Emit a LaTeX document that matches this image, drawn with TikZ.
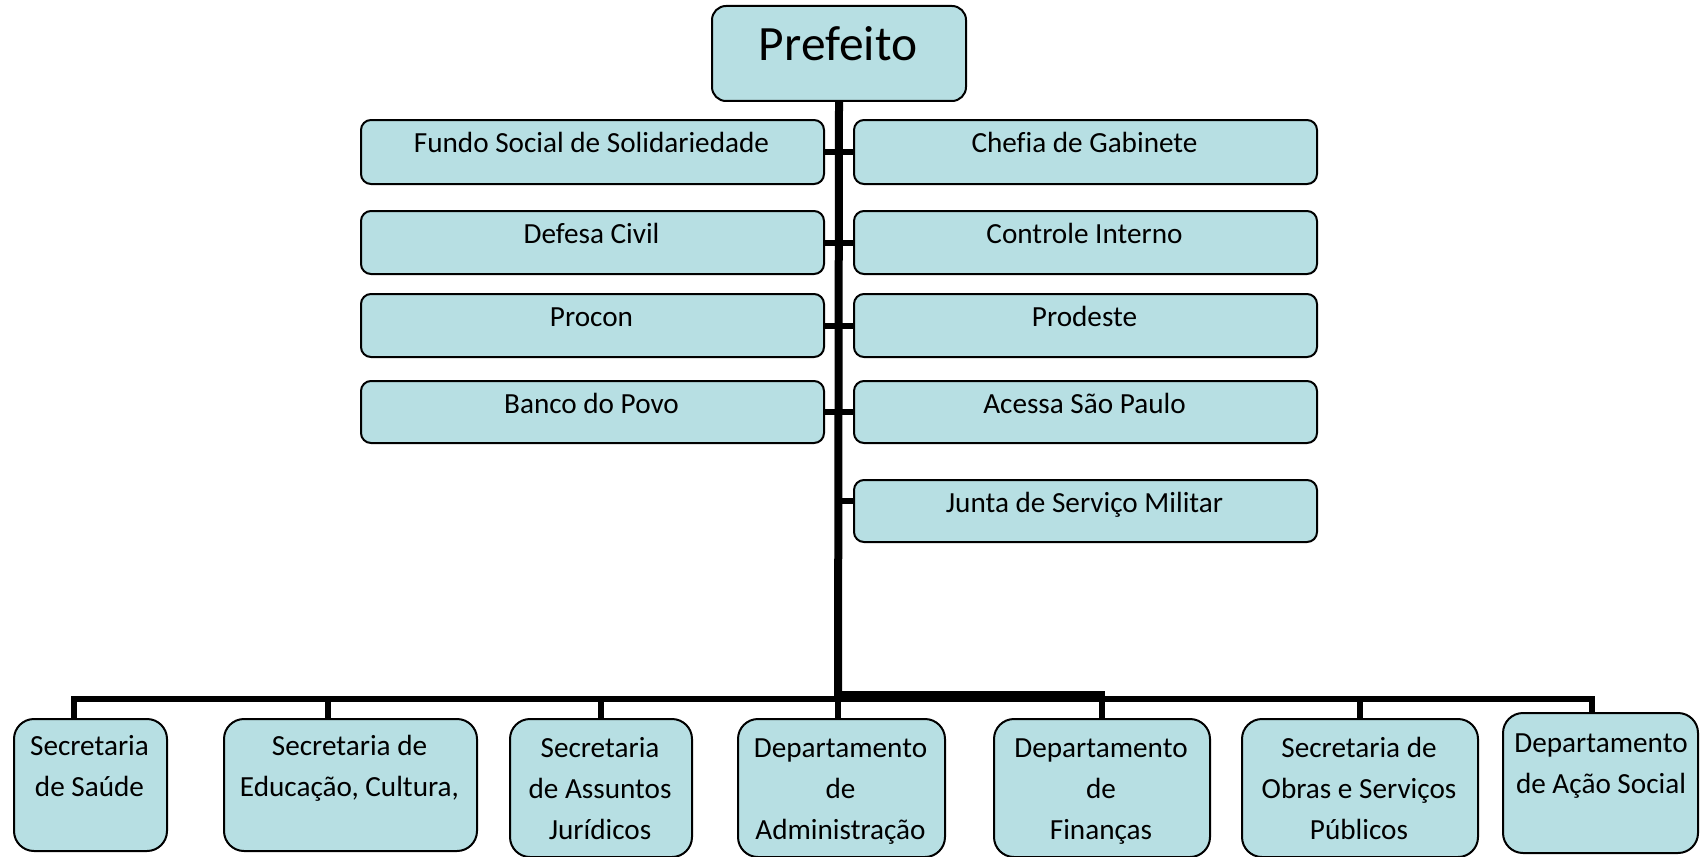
\documentclass[tikz,border=0pt]{standalone}
\usepackage{fontspec}
\setmainfont{Carlito}[Ligatures=NoCommon]
\definecolor{boxfill}{RGB}{183,223,227}
\begin{document}
\begin{tikzpicture}[x=0.5pt,y=-0.5pt,
 box/.style={draw=black, fill=boxfill, line width=1pt, inner sep=0pt, anchor=north west},
 topbox/.style={box, rounded corners=5pt, minimum width=231.5pt},
 botbox/.style={box, rounded corners=10pt},
 lbl/.style={font=\fontsize{14.6}{20.5}\selectfont, align=center, anchor=base, inner sep=0pt},
 trunkline/.style={line width=4pt},
 stub/.style={line width=3pt},
 bus/.style={line width=3pt, line join=miter},
 drop/.style={line width=2.6pt}]
\useasboundingbox (0,0) rectangle (1700,856);

% top
\node[box, rounded corners=7pt, minimum width=127pt, minimum height=47.5pt] (pref) at (711,5) {};
\node[font=\fontsize{24.7}{30}\selectfont, anchor=base, inner sep=0pt] (preft) at (838,61) {Prefeito};

% left column
\node[topbox, minimum height=32pt] (fundo) at (360,119) {};
\node[topbox, minimum height=31.5pt] (defesa) at (360,210) {};
\node[topbox, minimum height=31.5pt] (procon) at (360,293) {};
\node[topbox, minimum height=31pt] (banco) at (360,380) {};
% right column
\node[topbox, minimum height=32pt] (chefia) at (853,119) {};
\node[topbox, minimum height=31.5pt] (controle) at (853,210) {};
\node[topbox, minimum height=31.5pt] (prodeste) at (853,293) {};
\node[topbox, minimum height=31pt] (acessa) at (853,380) {};
\node[topbox, minimum height=31pt] (junta) at (853,479) {};

\node[lbl] (fundot) at (591.5,152) {Fundo Social de Solidariedade};
\node[lbl] (defesat) at (591.5,243) {Defesa Civil};
\node[lbl] (procont) at (591.5,326) {Procon};
\node[lbl] (bancot) at (591.5,413) {Banco do Povo};
\node[lbl] (chefiat) at (1084.5,152) {Chefia de Gabinete};
\node[lbl] (controlet) at (1084.5,243) {Controle Interno};
\node[lbl] (prodestet) at (1084.5,326) {Prodeste};
\node[lbl] (acessat) at (1084.5,413) {Acessa São Paulo};
\node[lbl] (juntat) at (1084.5,512) {Junta de Serviço Militar};

% bottom boxes
\node[botbox, minimum width=76.5pt, minimum height=66pt] (saude) at (13,718) {};
\node[botbox, minimum width=126.5pt, minimum height=66pt] (edu) at (223,718) {};
\node[botbox, minimum width=91pt, minimum height=69pt] (jur) at (509,718) {};
\node[botbox, minimum width=103.5pt, minimum height=69pt] (adm) at (737,718) {};
\node[botbox, minimum width=108pt, minimum height=69pt] (fin) at (993,718) {};
\node[botbox, minimum width=118pt, minimum height=69pt] (obras) at (1241,718) {};
\node[botbox, minimum width=97.5pt, minimum height=70pt] (acao) at (1502,712) {};

% base anchor = baseline of the last line
\node[lbl] (saudet) at (89.5,796) {Secretaria\\de Saúde};
\node[lbl] (edut) at (349.5,796) {Secretaria de\\Educação, Cultura,};
\node[lbl] (jurt) at (600,839) {Secretaria\\de Assuntos\\Jurídicos};
\node[lbl] (admt) at (840.5,839) {Departamento\\de\\Administração};
\node[lbl] (fint) at (1101,839) {Departamento\\de\\Finanças};
\node[lbl] (obrast) at (1359,839) {Secretaria de\\Obras e Serviços\\Públicos};
\node[lbl] (acaot) at (1601,793) {Departamento\\de Ação Social};

% connectors
\coordinate (T) at (838,699);
\coordinate (T2) at (838,694);
\coordinate (bL) at (74,699);
\coordinate (bE) at (328,699);
\coordinate (bR) at (1592,699);

\draw[trunkline] (pref.south) -- (T);
\draw[stub] (fundo.east) -- (chefia.west);
\draw[stub] (defesa.east) -- (controle.west);
\draw[stub] (procon.east) -- (prodeste.west);
\draw[stub] (banco.east) -- (acessa.west);
\draw[stub] ([yshift=5pt]junta.west) -- ++(-15,0);

\draw[bus] (bL |- saude.north) -- (bL) -- (bR) -- (bR |- acao.north);
\draw[drop] (bE) -- (bE |- edu.north);
\draw[drop] (jur.north |- T) -- (jur.north);
\draw[drop] (T) -- (T |- adm.north);
\draw[bus] (T2) -| (fin.north);
\draw[drop] (obras.north |- T) -- (obras.north);
\end{tikzpicture}
\end{document}
